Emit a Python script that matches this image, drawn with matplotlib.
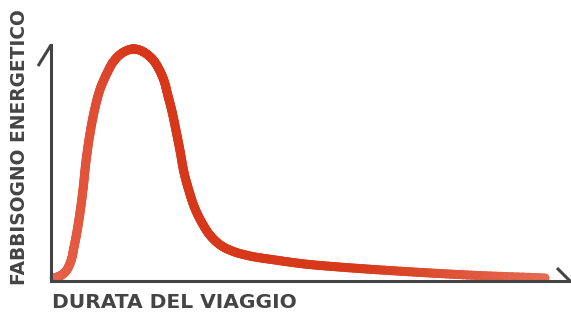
import matplotlib
matplotlib.use("Agg")
import matplotlib.pyplot as plt
import numpy as np
from matplotlib.collections import LineCollection
from matplotlib.colors import LinearSegmentedColormap

# Curva (scala 0-100 su entrambi gli assi)
durata = [0.6, 1.7, 2.9, 3.9, 4.4, 5.0, 5.6, 6.2, 6.7, 7.4, 8.3, 9.4, 10.8, 12.1, 13.7,
          15.6, 17.0, 18.3, 19.7, 20.8, 21.8, 22.5, 23.3, 24.1, 24.9, 25.6,
          26.6, 27.7, 29.1, 30.6, 32.6, 34.9, 38.3, 43.2, 48.9, 55.7, 63.4, 73.0,
          82.7, 95.2]
fabbisogno = [1.3, 2.1, 4.2, 8.9, 14.0, 20.8, 29.2, 39.4, 50.0, 61.0, 71.6, 80.9, 88.1, 93.2,
              96.6, 98.3, 97.9, 96.4, 93.6, 89.8, 84.7, 78.8, 72.0, 63.6, 54.7, 46.2,
              38.1, 30.9, 24.6, 19.5, 15.3, 12.7, 10.6, 8.9, 7.2, 5.9, 4.7, 3.4,
              2.3, 1.3]

etichetta_x = "DURATA DEL VIAGGIO"
etichetta_y = "FABBISOGNO ENERGETICO"

grigio = "#444444"
sfumatura = LinearSegmentedColormap.from_list(
    "rosso", [(0.0, "#e8684f"), (0.16, "#d8361a"), (0.6, "#d63a1a"), (1.0, "#e8705a")])


def catmull_rom(px, py, passi=12):
    # tracciato morbido (centripeto) che passa per i punti letti, solo per il disegno
    p = np.column_stack([px, py])
    p = np.vstack([2 * p[0] - p[1], p, 2 * p[-1] - p[-2]])
    out = []
    for i in range(1, len(p) - 2):
        p0, p1, p2, p3 = p[i - 1], p[i], p[i + 1], p[i + 2]
        t0 = 0.0
        t1 = t0 + np.linalg.norm(p1 - p0) ** 0.5
        t2 = t1 + np.linalg.norm(p2 - p1) ** 0.5
        t3 = t2 + np.linalg.norm(p3 - p2) ** 0.5
        for t in np.linspace(t1, t2, passi, endpoint=False):
            a1 = (t1 - t) / (t1 - t0) * p0 + (t - t0) / (t1 - t0) * p1
            a2 = (t2 - t) / (t2 - t1) * p1 + (t - t1) / (t2 - t1) * p2
            a3 = (t3 - t) / (t3 - t2) * p2 + (t - t2) / (t3 - t2) * p3
            b1 = (t2 - t) / (t2 - t0) * a1 + (t - t0) / (t2 - t0) * a2
            b2 = (t3 - t) / (t3 - t1) * a2 + (t - t1) / (t3 - t1) * a3
            out.append((t2 - t) / (t2 - t1) * b1 + (t - t1) / (t2 - t1) * b2)
    out.append(p[-2])
    return np.array(out)


fig = plt.figure(figsize=(5.71, 3.13), dpi=100)
ax = fig.add_axes([51 / 571, 32 / 313, 519 / 571, 236 / 313])
ax.set_xlim(0, 100)
ax.set_ylim(0, 100)

# lavoro in proporzione ai pixel per non deformare la curva
sx, sy = 5.19, 2.36
curva = catmull_rom(np.array(durata) * sx, np.array(fabbisogno) * sy)
x = curva[:, 0] / sx
y = curva[:, 1] / sy
punti = np.column_stack([x, y]).reshape(-1, 1, 2)
segmenti = np.concatenate([punti[:-1], punti[1:]], axis=1)
lc = LineCollection(segmenti, cmap=sfumatura, linewidths=6.5, capstyle="round",
                    joinstyle="round", clip_on=False)
lc.set_array((x[:-1] + x[1:]) / 2 / 100)
lc.set_clim(0, 1)
ax.add_collection(lc)

# assi con le piccole "frecce"
for s in ["top", "right"]:
    ax.spines[s].set_visible(False)
for s in ["left", "bottom"]:
    ax.spines[s].set_color(grigio)
    ax.spines[s].set_linewidth(2.2)
ax.set_xticks([])
ax.set_yticks([])
ax.plot([0, -0.025], [1, 0.911], transform=ax.transAxes, color=grigio, lw=2.2,
        clip_on=False, solid_capstyle="butt")
ax.plot([1, 0.975], [0, 0.055], transform=ax.transAxes, color=grigio, lw=2.2,
        clip_on=False, solid_capstyle="butt")

fig.text(52 / 571, 1 - 302 / 313, etichetta_x, ha="left", va="center",
         fontsize=14.6, fontweight="bold", family="DejaVu Sans", color=grigio)
fig.text(20 / 571, 1 - 147 / 313, etichetta_y, ha="center", va="center", rotation=90,
         fontsize=13.4, fontweight="bold", family="DejaVu Sans", color=grigio)

fig.savefig("out.png", dpi=100)
